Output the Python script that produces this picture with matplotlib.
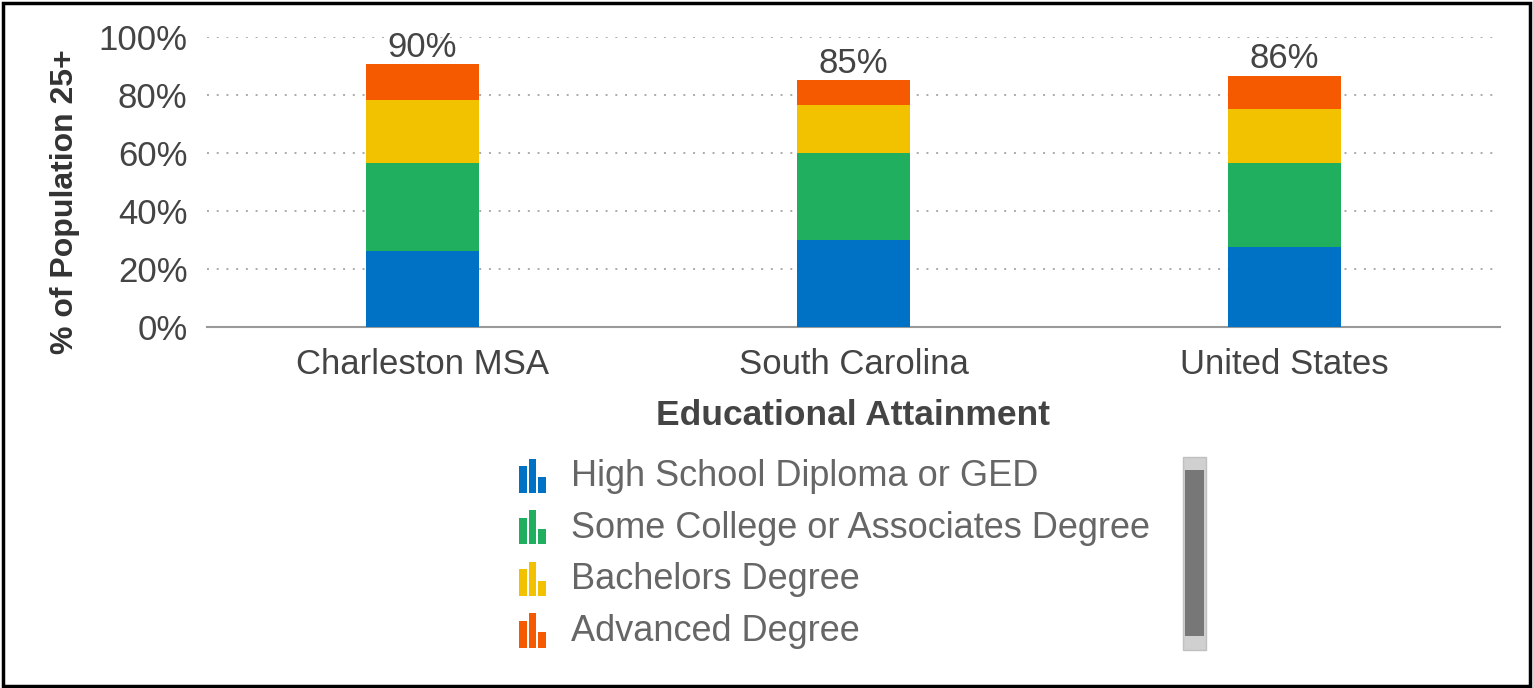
import matplotlib.pyplot as plt
from matplotlib.legend_handler import HandlerBase
from matplotlib.patches import Rectangle
import numpy as np

plt.rcParams['font.family'] = ['Liberation Sans', 'DejaVu Sans']

regions = ['Charleston MSA', 'South Carolina', 'United States']
series = ['High School Diploma or GED', 'Some College or Associates Degree',
          'Bachelors Degree', 'Advanced Degree']
high_school = [26.2, 29.9, 27.6]
some_college = [30.4, 29.9, 29.0]
bachelors = [21.6, 16.6, 18.4]
advanced = [12.3, 8.7, 11.6]
total_labels = ['90%', '85%', '86%']
colors = ['#0072c6', '#1faf5e', '#f2c200', '#f55a00']


class BarIconHandler(HandlerBase):
    # little three-bar icon like the web chart legend
    def create_artists(self, legend, orig_handle, xdescent, ydescent,
                       width, height, fontsize, trans):
        c = orig_handle.get_facecolor()
        bw = width / 3.3
        gap = bw * 0.2
        hs = [0.78, 1.0, 0.45]
        arts = []
        for i, h in enumerate(hs):
            r = Rectangle((-xdescent + i * (bw + gap), -ydescent - height * 0.27),
                          bw, height * 1.35 * h, facecolor=c, edgecolor='none',
                          transform=trans)
            arts.append(r)
        return arts


fig = plt.figure(figsize=(15.33, 6.88), dpi=100)
ax = fig.add_axes([0.135, 0.525, 0.8435, 0.4215])

x = np.arange(len(regions))
bottom = np.zeros(len(regions))
handles = []
for vals, name, col in zip([high_school, some_college, bachelors, advanced], series, colors):
    b = ax.bar(x, vals, 0.262, bottom=bottom, color=col, label=name, zorder=3)
    handles.append(b[0])
    bottom += np.array(vals)

for xi, top, lab in zip(x, bottom, total_labels):
    ax.text(xi, top + 0.1, lab, ha='center', va='bottom', fontsize=25, color='#444444')

ax.set_xlim(-0.5, 2.5)
ax.set_ylim(0, 100)
ax.set_yticks(range(0, 101, 20))
ax.set_yticklabels([f'{v}%' for v in range(0, 101, 20)])
ax.set_xticks(x)
ax.set_xticklabels(regions)
ax.tick_params(axis='both', length=0, labelsize=25, labelcolor='#444444')
ax.tick_params(axis='x', pad=15)
ax.tick_params(axis='y', pad=14)
ax.yaxis.grid(True, linestyle=(0, (1, 4)), color='#aaaaaa', linewidth=1.4, zorder=0)
for s in ['top', 'right', 'left']:
    ax.spines[s].set_visible(False)
ax.spines['bottom'].set_color('#999999')
ax.spines['bottom'].set_linewidth(1.5)

ax.set_xlabel('Educational Attainment', fontsize=25.5, fontweight='bold', color='#444444', labelpad=13)
ax.set_ylabel('% of Population 25+', fontsize=23, fontweight='bold', color='#333333')
ax.yaxis.set_label_coords(-0.098, 0.431)

leg = fig.legend(handles, series, loc='upper left', bbox_to_anchor=(0.3386, 0.333),
                 frameon=False, fontsize=26, labelcolor='#666666',
                 handler_map={Rectangle: BarIconHandler()},
                 handlelength=0.72, handletextpad=0.72, labelspacing=0.46,
                 borderpad=0, borderaxespad=0)

# scrollbar on the right of the legend
fig.patches.append(Rectangle((1183 / 1533, 1 - 650 / 688), 23 / 1533, 193 / 688,
                             transform=fig.transFigure, facecolor='#d0d0d0',
                             edgecolor='#c0c0c0'))
fig.patches.append(Rectangle((1185 / 1533, 1 - 636 / 688), 19 / 1533, 166 / 688,
                             transform=fig.transFigure, facecolor='#777777',
                             edgecolor='none'))

# outer frame
fig.patches.append(Rectangle((3 / 1533, 2 / 688), 1527 / 1533, 683 / 688,
                             transform=fig.transFigure, facecolor='none',
                             edgecolor='black', linewidth=2.5))

fig.savefig('out.png', dpi=100)
